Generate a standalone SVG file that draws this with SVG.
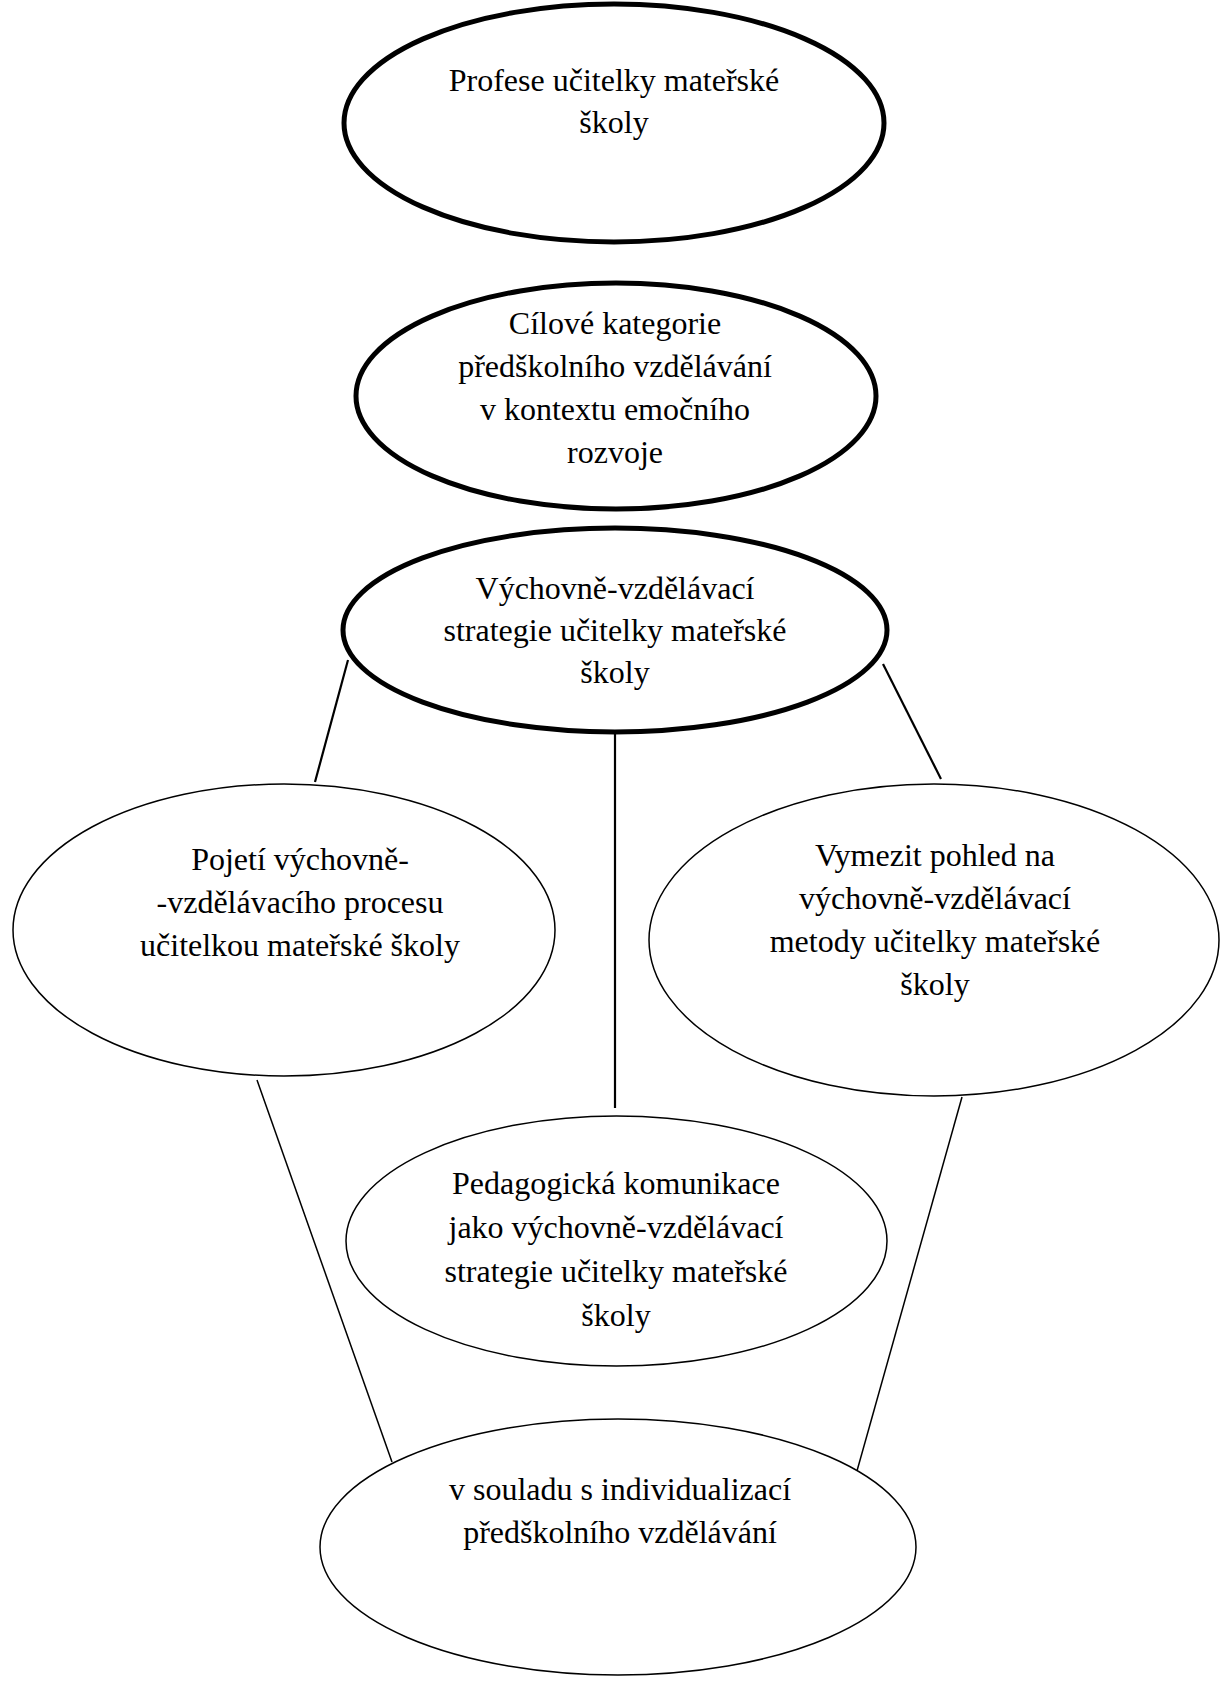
<svg xmlns="http://www.w3.org/2000/svg" width="1224" height="1681" viewBox="0 0 1224 1681">
<style>
.thick{fill:#fff;stroke:#000;stroke-width:5}
.thin{fill:#fff;stroke:#000;stroke-width:1.5}
.c{stroke:#000;fill:none}
text{font-family:"Liberation Serif","Times New Roman",serif;font-size:32px;fill:#000;text-anchor:middle}
</style>
<rect width="1224" height="1681" fill="#fff"/>
<g id="connectors">
<line class="c" stroke-width="2.2" x1="348" y1="660" x2="315" y2="782"/>
<line class="c" stroke-width="2.2" x1="615" y1="733" x2="615" y2="1108"/>
<line class="c" stroke-width="2.2" x1="883" y1="664" x2="941" y2="779"/>
<line class="c" stroke-width="1.5" x1="257" y1="1080" x2="392" y2="1462"/>
<line class="c" stroke-width="1.5" x1="962" y1="1097" x2="855" y2="1478"/>
</g>
<g id="n1">
<ellipse class="thick" cx="614" cy="123" rx="270" ry="119"/>
<text x="614" y="91">Profese učitelky mateřské</text>
<text x="614" y="133">školy</text>
</g>
<g id="n2">
<ellipse class="thick" cx="616" cy="396" rx="260" ry="113"/>
<text x="615" y="334">Cílové kategorie</text>
<text x="615" y="377">předškolního vzdělávání</text>
<text x="615" y="420">v kontextu emočního</text>
<text x="615" y="463">rozvoje</text>
</g>
<g id="n3">
<ellipse class="thick" cx="615" cy="630" rx="272" ry="102"/>
<text x="615" y="599">Výchovně-vzdělávací</text>
<text x="615" y="641">strategie učitelky mateřské</text>
<text x="615" y="683">školy</text>
</g>
<g id="n4">
<ellipse class="thin" cx="284" cy="930" rx="271" ry="146"/>
<text x="300" y="870">Pojetí výchovně-</text>
<text x="300" y="913">-vzdělávacího procesu</text>
<text x="300" y="956">učitelkou mateřské školy</text>
</g>
<g id="n5">
<ellipse class="thin" cx="934" cy="940" rx="285" ry="156"/>
<text x="935" y="866">Vymezit pohled na</text>
<text x="935" y="909">výchovně-vzdělávací</text>
<text x="935" y="952">metody učitelky mateřské</text>
<text x="935" y="995">školy</text>
</g>
<g id="n6">
<ellipse class="thin" cx="616.5" cy="1241" rx="270.5" ry="125"/>
<text x="616" y="1194">Pedagogická komunikace</text>
<text x="616" y="1238">jako výchovně-vzdělávací</text>
<text x="616" y="1282">strategie učitelky mateřské</text>
<text x="616" y="1326">školy</text>
</g>
<g id="n7">
<ellipse class="thin" cx="618" cy="1547" rx="298" ry="128"/>
<text x="620" y="1500">v souladu s individualizací</text>
<text x="620" y="1543">předškolního vzdělávání</text>
</g>
</svg>
